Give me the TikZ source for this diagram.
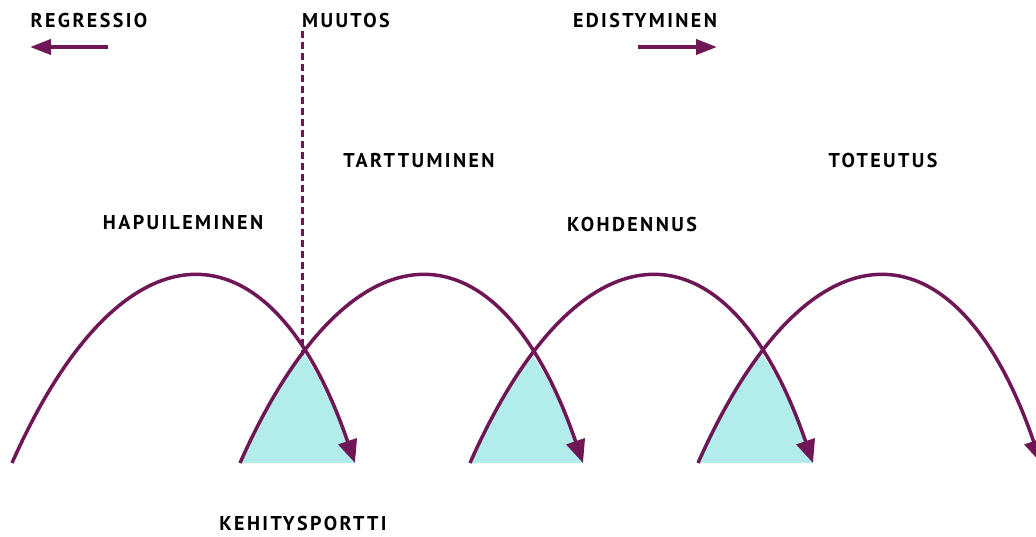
\documentclass[tikz,border=0pt]{standalone}
\usepackage{fontspec}
\setmainfont{PT Sans}
\usetikzlibrary{arrows.meta}
\definecolor{plum}{RGB}{110,22,86}
\definecolor{gate}{RGB}{178,237,235}
\newfontfamily\labelfont[LetterSpace=12]{PT Sans Bold}
\tikzset{
  phase/.style={font=\labelfont\fontsize{20}{20}\selectfont, inner sep=0pt},
  hop/.style={plum, line width=3.5pt, -{Triangle[length=23pt,width=19pt]}},
  way/.style={plum, line width=4pt, -{Triangle[length=21pt,width=15pt]}}
}
\begin{document}
\begin{tikzpicture}[x=1pt,y=-1pt]
\useasboundingbox (0,0) rectangle (1036,536);
% gates
\begin{scope}
\clip (12,463) .. controls (122,215) and (270,215) .. (355,463) -- cycle;
\fill[gate] (240,463) .. controls (350,215) and (498,215) .. (583,463) -- cycle;
\end{scope}
\begin{scope}
\clip (240,463) .. controls (350,215) and (498,215) .. (583,463) -- cycle;
\fill[gate] (470,463) .. controls (580,215) and (728,215) .. (813,463) -- cycle;
\end{scope}
\begin{scope}
\clip (470,463) .. controls (580,215) and (728,215) .. (813,463) -- cycle;
\fill[gate] (698,463) .. controls (808,215) and (956,215) .. (1041,463) -- cycle;
\end{scope}
% hops
\draw[hop] (12,463) .. controls (122,215) and (270,215) .. (355,463);
\draw[hop] (240,463) .. controls (350,215) and (498,215) .. (583,463);
\draw[hop] (470,463) .. controls (580,215) and (728,215) .. (813,463);
\draw[hop] (698,463) .. controls (808,215) and (956,215) .. (1041,463);
% labels
\node[phase] (regressio) at (89,20) {REGRESSIO};
\node[phase] (muutos) at (346,20) {MUUTOS};
\node[phase] (edistyminen) at (645,20) {EDISTYMINEN};
\node[phase] (tarttuminen) at (419,161) {TARTTUMINEN};
\node[phase] (toteutus) at (883,160) {TOTEUTUS};
\node[phase] (hapuileminen) at (183,223) {HAPUILEMINEN};
\node[phase] (kohdennus) at (632,224) {KOHDENNUS};
\node[phase] (kehitysportti) at (303,523) {KEHITYSPORTTI};
% direction arrows
\coordinate (backstart) at (108,47);
\coordinate (backend) at (30,47);
\coordinate (fwdstart) at (638,47);
\coordinate (fwdend) at (717,47);
\draw[way] (backstart) -- (backend);
\draw[way] (fwdstart) -- (fwdend);
% change line
\coordinate (changetop) at (302,31);
\coordinate (cross) at (302,355);
\draw[plum, line width=3pt, dash pattern=on 7pt off 4pt] (changetop) -- (cross);
\end{tikzpicture}
\end{document}
